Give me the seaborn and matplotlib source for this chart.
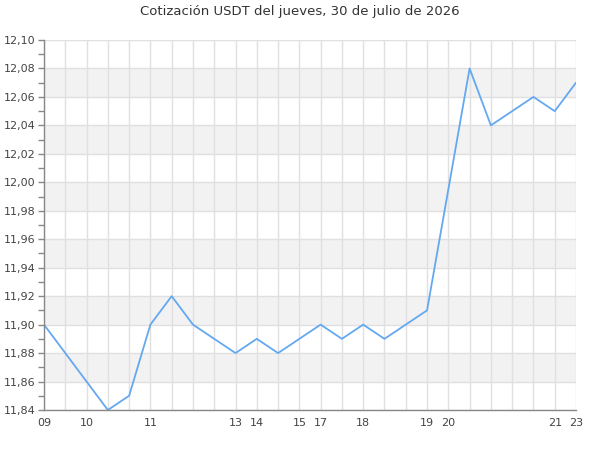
import matplotlib
matplotlib.use("Agg")
import matplotlib.pyplot as plt
import seaborn as sns
import pandas as pd
import numpy as np
from matplotlib.ticker import MultipleLocator, FuncFormatter

title = "Cotización USDT del jueves, 30 de julio de 2026"
values = [11.90, 11.88, 11.86, 11.84, 11.85, 11.90, 11.92, 11.90, 11.89, 11.88,
          11.89, 11.88, 11.89, 11.90, 11.89, 11.90, 11.89, 11.90, 11.91, 11.995,
          12.08, 12.04, 12.05, 12.06, 12.05, 12.07]
tick_positions = [0, 2, 5, 9, 10, 12, 13, 15, 18, 19, 24, 25]
tick_labels = ["09", "10", "11", "13", "14", "15", "17", "18", "19", "20", "21", "23"]
y_min, y_max = 11.84, 12.10

df = pd.DataFrame({"idx": np.arange(len(values)), "valor": values})

sns.set_theme(style="white")
plt.rcParams['font.family'] = ['DejaVu Sans']

fig = plt.figure(figsize=(6, 4.5), dpi=100)
ax = fig.add_axes([44/600, 1-410/450, (576-44)/600, (410-40)/450])

# alternating bands
edges = np.round(np.arange(y_min, y_max + 0.001, 0.02), 2)
for i in range(len(edges) - 1):
    if i % 2 == 1:
        ax.axhspan(edges[i], edges[i+1], color="#f2f2f2", zorder=0, lw=0)

for yv in edges:
    ax.axhline(yv, color="#e0e0e0", lw=1, zorder=1)
for xv in df["idx"]:
    ax.axvline(xv, color="#e0e0e0", lw=1, zorder=1)

sns.lineplot(data=df, x="idx", y="valor", ax=ax, color="#64a8f0", lw=1.3, zorder=3)

ax.set_xlim(0, len(values) - 1)
ax.set_ylim(y_min, y_max)
ax.set_xticks(tick_positions)
ax.set_xticklabels(tick_labels)
ax.yaxis.set_major_locator(MultipleLocator(0.02))
ax.yaxis.set_minor_locator(MultipleLocator(0.01))
ax.yaxis.set_major_formatter(FuncFormatter(lambda v, p: f"{v:.2f}".replace(".", ",")))
ax.tick_params(axis="y", which="both", left=True, length=4, width=1, color="#888888",
               labelsize=8, labelcolor="#444444", pad=2)
ax.tick_params(axis="x", which="both", bottom=False, length=0, labelsize=8,
               labelcolor="#444444", pad=6)
ax.set_xlabel("")
ax.set_ylabel("")
for s in ["top", "right"]:
    ax.spines[s].set_visible(False)
for s in ["left", "bottom"]:
    ax.spines[s].set_color("#888888")
    ax.spines[s].set_linewidth(1)
    ax.spines[s].set_zorder(4)

fig.text(0.5, 1 - 11/450, title, ha="center", va="center", fontsize=9.5, color="#333333")

fig.savefig("out.png", dpi=100)
